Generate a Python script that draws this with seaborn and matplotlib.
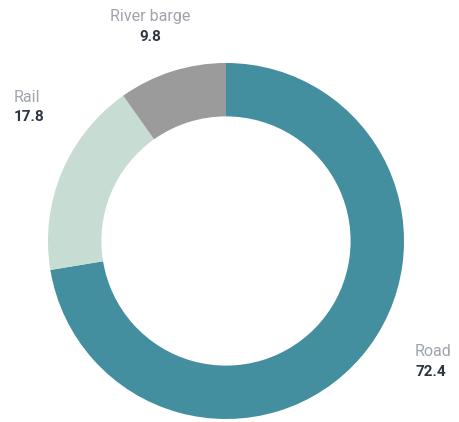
import matplotlib
matplotlib.use("Agg")
import matplotlib.pyplot as plt
import seaborn as sns

# transport mode shares (%)
modes = ["Road", "Rail", "River barge"]
shares = [72.4, 17.8, 9.8]
colores = ["#438f9f", "#c7dcd2", "#9b9b9b"]

sns.set_theme(style="white")
plt.rcParams['font.family'] = ['Roboto', 'DejaVu Sans']

fig = plt.figure(figsize=(4.59, 4.22), dpi=100)
ax = fig.add_axes([0, 0, 1, 1])

ax.pie(shares, colors=colores, startangle=90, counterclock=False,
       wedgeprops=dict(width=0.3, edgecolor="none"))

# centro del anillo en (226, 241) px, radio 178 px
ax.set_xlim(-226 / 178, (459 - 226) / 178)
ax.set_ylim((241 - 422) / 178, 241 / 178)
ax.set_aspect("auto")
ax.axis("off")

# etiquetas: (x px, y px, alineacion)
pos = {"Road": (415, 352, "left"),
       "Rail": (14, 97, "left"),
       "River barge": (150, 17, "center")}

for m, v in zip(modes, shares):
    x, y, ha = pos[m]
    fig.text(x / 459, 1 - y / 422, m, ha=ha, va="center",
             fontsize=11.5, color="#9fa4ab")
    fig.text(x / 459, 1 - (y + 20) / 422, f"{v}", ha=ha, va="center",
             fontsize=11, color="#2d3540", fontweight="bold")

plt.savefig("out.png", dpi=100)
